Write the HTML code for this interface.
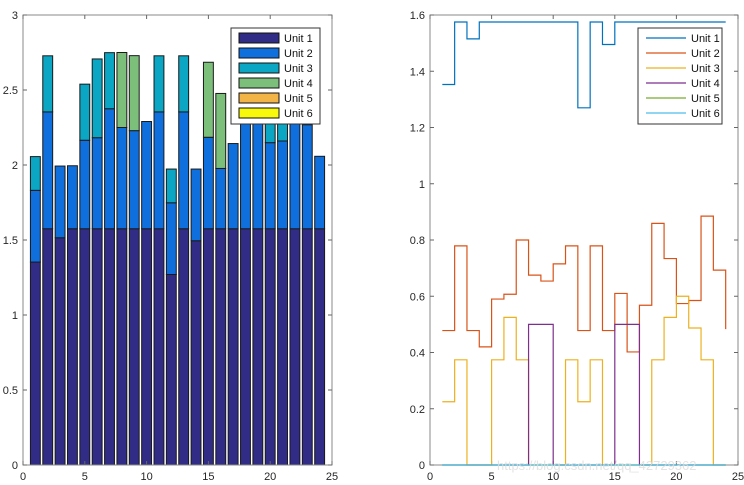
<!DOCTYPE html>
<html><head><meta charset="utf-8"><style>
body{margin:0;background:#fff;width:744px;height:485px;overflow:hidden}
svg{display:block;font-family:"Liberation Sans",sans-serif}
</style></head><body>
<svg id="chart" width="744" height="485"></svg>
<script>
const hours=[1,2,3,4,5,6,7,8,9,10,11,12,13,14,15,16,17,18,19,20,21,22,23,24];
const unitNames=["Unit 1","Unit 2","Unit 3","Unit 4","Unit 5","Unit 6"];
const unit1=[1.353,1.575,1.515,1.575,1.575,1.575,1.575,1.575,1.575,1.575,1.575,1.27,1.575,1.495,1.575,1.575,1.575,1.575,1.575,1.575,1.575,1.575,1.575,1.575];
const unit2=[0.478,0.779,0.478,0.42,0.59,0.607,0.8,0.675,0.654,0.715,0.779,0.478,0.779,0.478,0.61,0.402,0.568,0.859,0.734,0.574,0.585,0.885,0.693,0.483];
const unit3=[0.225,0.374,0,0,0.374,0.525,0.374,0,0,0,0.374,0.225,0.374,0,0,0,0,0.374,0.525,0.6,0.487,0.374,0,0];
const unit4=[0,0,0,0,0,0,0,0.5,0.5,0,0,0,0,0,0.5,0.5,0,0,0,0,0,0,0,0];
const unit5=[0,0,0,0,0,0,0,0,0,0,0,0,0,0,0,0,0,0,0,0,0,0,0,0];
const unit6=[0,0,0,0,0,0,0,0,0,0,0,0,0,0,0,0,0,0,0,0,0,0,0,0];
const xTicks=[0,5,10,15,20,25];
const leftYTicks=[0,0.5,1,1.5,2,2.5,3];
const rightYTicks=[0,0.2,0.4,0.6,0.8,1,1.2,1.4,1.6];

const series=[unit1,unit2,unit3,unit4,unit5,unit6];
const barColors=["#312c86","#0f70dd","#0ba6c4","#7cbf7b","#f2b446","#f8f80d"];
const lineColors=["#0072BD","#D95319","#EDB120","#7E2F8E","#77AC30","#4DBEEE"];
const NS="http://www.w3.org/2000/svg";
const svg=document.getElementById('chart');
function mk(tag,attrs,parent){const e=document.createElementNS(NS,tag);for(const k in attrs)e.setAttribute(k,attrs[k]);(parent||svg).appendChild(e);return e;}

const L={x0:23,x1:332,y0:465,y1:15,xmax:25,ymax:3};
const R={x0:430,x1:738,y0:465,y1:15,xmax:25,ymax:1.6};
function sx(a,v){return a.x0+(a.x1-a.x0)*v/a.xmax;}
function sy(a,v){return a.y0-(a.y0-a.y1)*v/a.ymax;}

function axes(a,yt,name){
  const g=mk('g',{});
  
  
  xTicks.forEach(t=>{
    const x=sx(a,t);
    mk('line',{x1:x,x2:x,y1:a.y0,y2:a.y0-4,stroke:'#666'},g);
    mk('line',{x1:x,x2:x,y1:a.y1,y2:a.y1+4,stroke:'#666'},g);
    const tx=mk('text',{x:x,y:a.y0+15,'text-anchor':'middle','font-size':11,fill:'#262626'},g);
    tx.textContent=t;
    
    
  });
  yt.forEach(t=>{
    const y=sy(a,t);
    mk('line',{x1:a.x0,x2:a.x0+4,y1:y,y2:y,stroke:'#666'},g);
    mk('line',{x1:a.x1,x2:a.x1-4,y1:y,y2:y,stroke:'#666'},g);
    const tx=mk('text',{x:a.x0-5,y:y+4,'text-anchor':'end','font-size':11,fill:'#262626'},g);
    tx.textContent=t;
    
    
  });
  return g;
}

// left bars
const bars=mk('g',{});


hours.forEach((h,i)=>{
  let base=0;
  series.forEach((s,k)=>{
    const v=s[i];
    if(v>0){
      const w=(L.x1-L.x0)/L.xmax*0.8;
      const r=mk('rect',{x:sx(L,h)-w/2,y:sy(L,base+v),width:w,height:sy(L,base)-sy(L,base+v),fill:barColors[k],stroke:'#1a1a1a','stroke-width':1},bars);
      
      
    }
    base+=v;
  });
});
mk('rect',{x:L.x0,y:L.y1,width:L.x1-L.x0,height:L.y0-L.y1,fill:'none',stroke:'#888'});
axes(L,leftYTicks,'left');

// right stairs
mk('rect',{x:R.x0,y:R.y1,width:R.x1-R.x0,height:R.y0-R.y1,fill:'none',stroke:'#888'});
axes(R,rightYTicks,'right');
series.forEach((s,k)=>{
  let d='';
  hours.forEach((h,i)=>{
    const x=sx(R,h),y=sy(R,s[i]);
    if(i===0)d+='M'+x+','+y;else d+=' V'+y;
    if(i<hours.length-1)d+=' H'+sx(R,hours[i+1]);
  });
  const p=mk('path',{d:d,fill:'none',stroke:lineColors[k],'stroke-width':1.2});
  
  
});

// legends
function legend(x,y,w,isBar,name){
  const g=mk('g',{});
  
  
  mk('rect',{x:x,y:y,width:w,height:96,fill:'#fff',stroke:'#333'},g);
  unitNames.forEach((n,k)=>{
    const cy=y+10+k*15;
    if(isBar)mk('rect',{x:x+8,y:cy-5,width:40,height:10,fill:barColors[k],stroke:'#111'},g);
    else mk('line',{x1:x+8,x2:x+48,y1:cy,y2:cy,stroke:lineColors[k],'stroke-width':1.3},g);
    const t=mk('text',{x:x+53,y:cy+4,'font-size':11,fill:'#111'},g);
    t.textContent=n;
    
    
  });
}
legend(231,28,89,true,'left-legend');
legend(638,28,84,false,'right-legend');

const wm=mk('text',{x:497,y:470,'font-size':13,fill:'#ddd','opacity':0.8});
wm.textContent='https://blog.csdn.net/qq_42729362';


</script>
</body></html>
